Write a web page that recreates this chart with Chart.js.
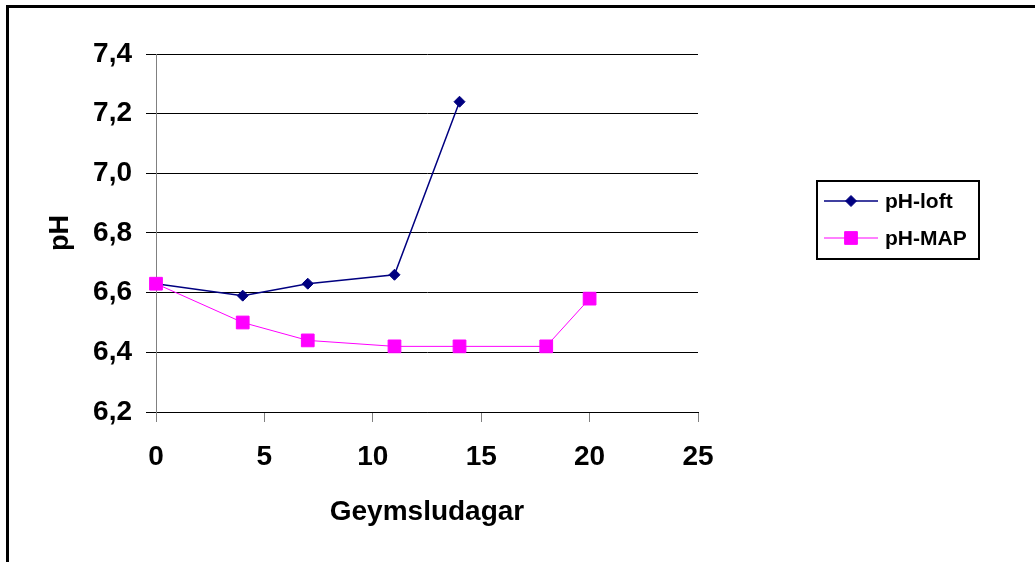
<!DOCTYPE html>
<html>
<head>
<meta charset="utf-8">
<script src="https://cdn.jsdelivr.net/npm/chart.js@4"></script>
<style>
  html, body { margin: 0; padding: 0; background: #fff; overflow: hidden; }
  #wrap { position: relative; width: 1035px; height: 562px; }
  #frame {
    position: absolute; left: 6px; top: 5px; width: 1100px; height: 700px;
    border-top: 3px solid #000; border-left: 3px solid #000;
  }
  canvas { position: absolute; left: 0; top: 0; }
</style>
</head>
<body>
<div id="wrap">
  <div id="frame"></div>
  <canvas id="ph" width="1035" height="562"></canvas>
</div>
<script>
// storage days and pH readings
const daysLoft = [0, 4, 7, 11, 14];
const phLoft = [6.63, 6.59, 6.63, 6.66, 7.24];
const daysMap = [0, 4, 7, 11, 14, 18, 20];
const phMap = [6.63, 6.50, 6.44, 6.42, 6.42, 6.42, 6.58];
const seriesNames = ["pH-loft", "pH-MAP"];
const xTitle = "Geymsludagar";
const yTitle = "pH";

const FONT = "'Liberation Sans', Arial, sans-serif";

const toPoints = (xs, ys) => xs.map((x, i) => ({ x: x, y: ys[i] }));

// legend drawn by hand so the box can sit where the original one is
const boxLegend = {
  id: "boxLegend",
  afterDraw(chart) {
    const ctx = chart.ctx;
    ctx.save();
    ctx.strokeStyle = "#000";
    ctx.lineWidth = 2;
    ctx.strokeRect(817, 181, 162, 78);
    const rows = [201, 238];
    chart.data.datasets.forEach((ds, i) => {
      const y = rows[i];
      ctx.strokeStyle = ds.borderColor;
      ctx.lineWidth = ds.borderWidth;
      ctx.beginPath();
      ctx.moveTo(824, y);
      ctx.lineTo(878, y);
      ctx.stroke();
      ctx.fillStyle = ds.pointBackgroundColor;
      ctx.strokeStyle = ds.pointBorderColor;
      ctx.lineWidth = 1;
      Chart.helpers.drawPoint(ctx, { pointStyle: ds.pointStyle, radius: ds.pointRadius, rotation: 0, borderWidth: 1 }, 851, y);
      ctx.fillStyle = "#000";
      ctx.font = "bold 21px " + FONT;
      ctx.textBaseline = "middle";
      ctx.textAlign = "left";
      ctx.fillText(ds.label, 885, y + 1);
    });
    ctx.restore();
  }
};

const ctx = document.getElementById("ph").getContext("2d");
new Chart(ctx, {
  type: "line",
  data: {
    datasets: [
      {
        label: seriesNames[0],
        data: toPoints(daysLoft, phLoft),
        borderColor: "#000080",
        backgroundColor: "#000080",
        borderWidth: 1.5,
        pointStyle: "rectRot",
        pointRadius: 5.5,
        pointBackgroundColor: "#000080",
        pointBorderColor: "#000080",
        pointBorderWidth: 1,
        tension: 0,
        clip: false,
        order: 1,
      },
      {
        label: seriesNames[1],
        data: toPoints(daysMap, phMap),
        borderColor: "#ff00ff",
        backgroundColor: "#ff00ff",
        borderWidth: 1,
        pointStyle: "rect",
        pointRadius: 9,
        pointBackgroundColor: "#ff00ff",
        pointBorderColor: "#ff00ff",
        pointBorderWidth: 1,
        tension: 0,
        clip: false,
        order: 0,
      },
    ],
  },
  options: {
    responsive: false,
    devicePixelRatio: 1,
    animation: false,
    layout: {
      padding: { left: 0, top: 54, right: 337, bottom: 33 },
    },
    plugins: {
      legend: { display: false },
      tooltip: { enabled: false },
    },
    scales: {
      x: {
        type: "linear",
        min: 0,
        max: 25,
        afterFit: (scale) => { scale.height = 117; },
        ticks: {
          stepSize: 5,
          color: "#000",
          padding: 18,
          font: { family: FONT, size: 28, weight: "bold" },
        },
        grid: {
          drawOnChartArea: false,
          drawTicks: true,
          tickLength: 10,
          color: "#808080",
        },
        border: { display: true, color: "#000", width: 1 },
        title: {
          display: true,
          text: xTitle,
          color: "#000",
          padding: { top: 0, bottom: 0 },
          font: { family: FONT, size: 28, weight: "bold" },
        },
      },
      y: {
        min: 6.2,
        max: 7.4,
        afterFit: (scale) => { scale.width = 156; },
        ticks: {
          stepSize: 0.2,
          color: "#000",
          padding: 14,
          font: { family: FONT, size: 28, weight: "bold" },
          callback: (v) => v.toFixed(1).replace(".", ","),
        },
        grid: {
          color: "#000",
          lineWidth: 1,
          drawTicks: true,
          tickLength: 10,
        },
        border: { display: true, color: "#808080", width: 1 },
        title: {
          display: true,
          text: yTitle,
          color: "#000",
          padding: { top: 44, bottom: 0 },
          font: { family: FONT, size: 27, weight: "bold" },
        },
      },
    },
  },
  plugins: [boxLegend],
});
</script>
</body>
</html>
